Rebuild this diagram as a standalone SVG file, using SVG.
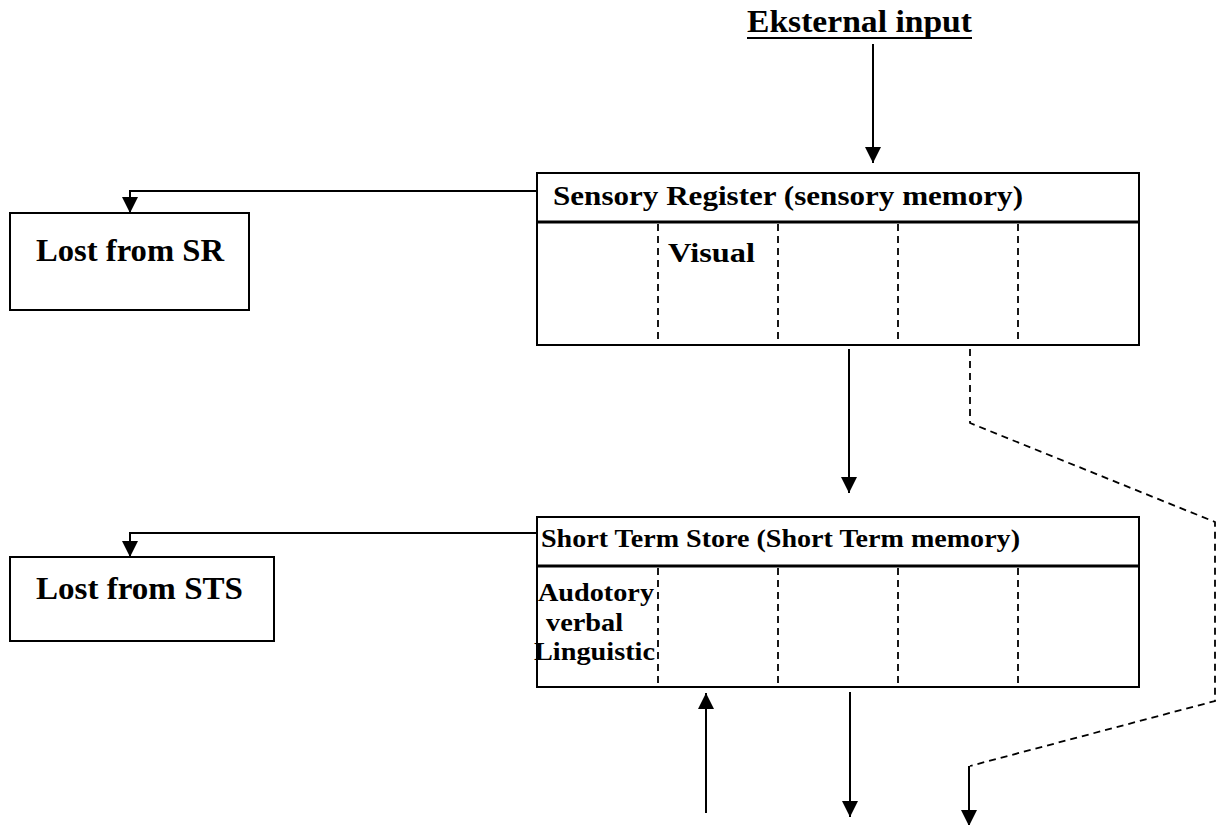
<svg xmlns="http://www.w3.org/2000/svg" width="1217" height="825" viewBox="0 0 1217 825">
<style>
.t{font-family:"Liberation Serif","Times New Roman",serif;font-weight:bold;fill:#000}
.box{fill:#fff;stroke:#000;stroke-width:2}
.ln{fill:none;stroke:#000;stroke-width:2}
.dash{fill:none;stroke:#000;stroke-width:1.8;stroke-dasharray:7,5}
</style>
<defs>
<marker id="ah" markerWidth="18" markerHeight="18" refX="16" refY="8" orient="auto" markerUnits="userSpaceOnUse">
<path d="M0,0 L16,8 L0,16 Z" fill="#000"/>
</marker>
</defs>
<rect width="1217" height="825" fill="#fff"/>
<g id="title">
<text class="t" x="747" y="32" font-size="31" textLength="225" lengthAdjust="spacingAndGlyphs">Eksternal input</text>
<line x1="747" y1="38" x2="972" y2="38" stroke="#000" stroke-width="2"/>
</g>
<g id="sensory-register">
<rect class="box" x="537" y="173" width="602" height="172"/>
<line x1="537" y1="222" x2="1139" y2="222" stroke="#000" stroke-width="3"/>
<line class="dash" x1="658" y1="224" x2="658" y2="345"/>
<line class="dash" x1="778" y1="224" x2="778" y2="345"/>
<line class="dash" x1="898" y1="224" x2="898" y2="345"/>
<line class="dash" x1="1018" y1="224" x2="1018" y2="345"/>
<text class="t" x="553" y="205" font-size="27" textLength="470" lengthAdjust="spacingAndGlyphs">Sensory Register (sensory memory)</text>
<text class="t" x="668" y="262" font-size="27" textLength="87" lengthAdjust="spacingAndGlyphs">Visual</text>
</g>
<g id="short-term-store">
<rect class="box" x="537" y="517" width="602" height="170"/>
<line x1="537" y1="566" x2="1139" y2="566" stroke="#000" stroke-width="3"/>
<line class="dash" x1="658" y1="568" x2="658" y2="687"/>
<line class="dash" x1="778" y1="568" x2="778" y2="687"/>
<line class="dash" x1="898" y1="568" x2="898" y2="687"/>
<line class="dash" x1="1018" y1="568" x2="1018" y2="687"/>
<text class="t" x="541" y="547" font-size="25" textLength="479" lengthAdjust="spacingAndGlyphs">Short Term Store (Short Term memory)</text>
<text class="t" x="538" y="601" font-size="25" textLength="116" lengthAdjust="spacingAndGlyphs">Audotory</text>
<text class="t" x="546" y="631" font-size="25" textLength="77" lengthAdjust="spacingAndGlyphs">verbal</text>
<text class="t" x="534" y="660" font-size="25" textLength="121" lengthAdjust="spacingAndGlyphs">Linguistic</text>
</g>
<g id="lost-sr">
<rect class="box" x="10" y="213" width="239" height="97"/>
<text class="t" x="36" y="261" font-size="31" textLength="188" lengthAdjust="spacingAndGlyphs">Lost from SR</text>
</g>
<g id="lost-sts">
<rect class="box" x="10" y="557" width="264" height="84"/>
<text class="t" x="36" y="599" font-size="31" textLength="207" lengthAdjust="spacingAndGlyphs">Lost from STS</text>
</g>
<g id="connectors">
<line class="ln" x1="873" y1="44" x2="873" y2="163" marker-end="url(#ah)"/>
<polyline class="ln" points="537,191 130,191 130,213" marker-end="url(#ah)"/>
<polyline class="ln" points="537,533 130,533 130,557" marker-end="url(#ah)"/>
<line class="ln" x1="849" y1="349" x2="849" y2="493" marker-end="url(#ah)"/>
<line class="ln" x1="706" y1="813" x2="706" y2="693" marker-end="url(#ah)"/>
<line class="ln" x1="850" y1="692" x2="850" y2="817" marker-end="url(#ah)"/>
<polyline class="dash" points="970,349 970,423 1215,522 1215,701 970,766"/>
<line class="ln" x1="969" y1="766" x2="969" y2="826" marker-end="url(#ah)"/>
</g>
</svg>
